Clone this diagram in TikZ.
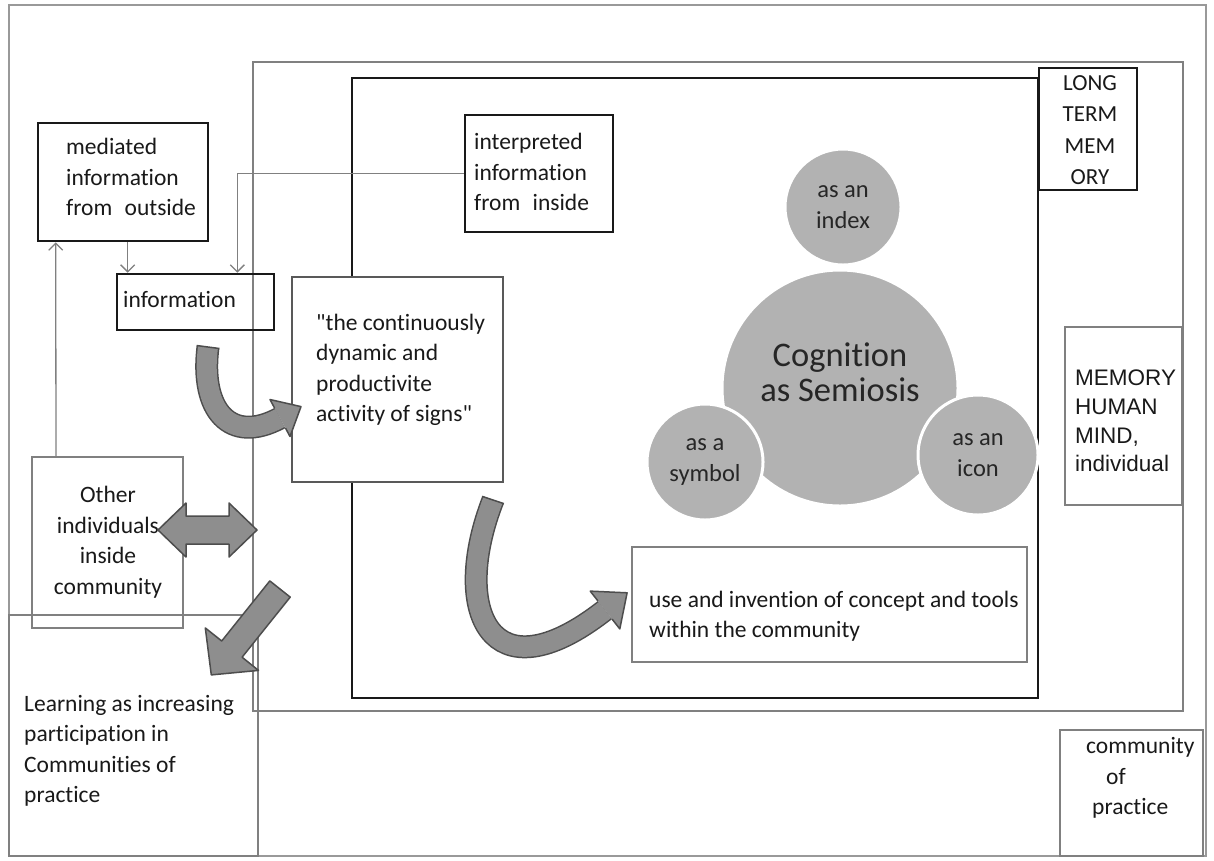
\documentclass[tikz,border=0pt]{standalone}
\usepackage{fontspec}
\setmainfont{Carlito}[Ligatures={TeX,NoCommon}]
\newfontfamily\arialfont{Liberation Sans}
\usetikzlibrary{arrows.meta,calc}
\definecolor{arrfill}{HTML}{8E8E8E}
\definecolor{arrline}{HTML}{4D4D4D}
\definecolor{circfill}{HTML}{B2B2B2}
\tikzset{
  outerframe/.style={draw=black!40, line width=1.6pt},
  gframe/.style={draw=black!50, line width=2pt},
  bframe/.style={draw=black!90, line width=2.6pt},
  bbox/.style={rectangle, draw=black!90, line width=2.6pt, inner sep=0pt},
  cbox/.style={rectangle, draw=black!65, line width=2.2pt, inner sep=0pt},
  gbox/.style={rectangle, draw=black!50, line width=2pt, inner sep=0pt},
  txt/.style={inner sep=0pt, align=left, font=\fontsize{23.5}{30.5}\selectfont, text=black!90},
  conn/.style={draw=black!50, line width=1.3pt, -{Straight Barb[length=7pt,width=14pt]}},
  circ/.style={circle, fill=circfill, draw=white, line width=3pt, inner sep=0pt,
               align=center, font=\fontsize{24.5}{31}\selectfont, text=black!85},
  bandout/.style={draw=arrline, line width=23pt},
  bandin/.style={draw=arrfill, line width=20pt},
  headline/.style={draw=arrline, line width=1.5pt, line join=round},
  blockarrow/.style={fill=arrfill, draw=arrline, line width=1.5pt, line join=round}
}
\begin{document}
\begin{tikzpicture}[x=1pt,y=-1pt]
\useasboundingbox (0,0) rectangle (1214,860);
\fill[white] (0,0) rectangle (1214,860);
% frames
\draw[outerframe] (9,5) rectangle (1206,856);
\draw[gframe] (253,62) rectangle (1183,711);
\draw[bframe] (352,78) rectangle (1038,698);
% boxes
\node[bbox, minimum width=170pt, minimum height=118pt] (med) at (123,182) {};
\node[bbox, minimum width=157pt, minimum height=56pt] (info) at (195.5,302) {};
\node[bbox, minimum width=148pt, minimum height=117pt, fill=white] (interp) at (539,173.5) {};
\node[cbox, minimum width=211pt, minimum height=205pt, fill=white] (cont) at (397.5,379.5) {};
\node[gbox, minimum width=151pt, minimum height=171pt] (other) at (107.5,542.5) {};
\node[gbox, minimum width=249pt, minimum height=241pt] (learn) at (133.5,735.5) {};
\node[gbox, minimum width=395pt, minimum height=115pt] (use) at (829.5,604.5) {};
\node[bbox, minimum width=98pt, minimum height=122pt, fill=white] (ltm) at (1088,129) {};
\node[gbox, minimum width=117pt, minimum height=178pt] (mem) at (1123.5,416) {};
\node[gbox, minimum width=143pt, minimum height=126pt] (comm) at (1131.5,793) {};
% texts
\node[txt, anchor=west] (medT) at (66,177) {mediated\\information\\from\hspace{0.3em} outside};
\node[txt, anchor=west] (infoT) at (123,299) {information};
\node[txt, anchor=west] (interpT) at (474,172) {interpreted\\information\\from\hspace{0.3em} inside};
\node[txt, anchor=west] (contT) at (316,370) {\textquotedbl the continuously\\dynamic and\\productivite\\activity of signs\textquotedbl};
\node[txt, align=center] (otherT) at (108,542) {Other\\individuals\\inside\\community};
\node[txt, anchor=west] (learnT) at (24,751) {Learning as increasing\\participation in\\Communities of\\practice};
\node[txt, anchor=west] (useT) at (649,616) {use and invention of concept and tools\\within the community};
\node[txt, align=center, font=\fontsize{23}{31.3}\selectfont] (ltmT) at (1090,130) {LONG\\TERM\\MEM\\ORY};
\node[txt, anchor=west, font=\arialfont\fontsize{22.5}{28.7}\selectfont] (memT) at (1075,421) {MEMORY\\HUMAN\\MIND,\\individual};
\node[txt, anchor=west] (commT) at (1086,778) {community\\\hspace{20pt}of\\\hspace{6pt}practice};
% connectors
\draw[conn] ([xshift=25pt]other.north west) -- ([xshift=19pt]med.south west);
\draw[conn] ([xshift=91pt]med.south west) -- ([xshift=12pt]info.north west);
\draw[conn] (interp.west) -| ([xshift=-38pt]info.north east);
% circles
\node[circ, minimum size=236pt] (big) at (840,388) {};
\node[inner sep=0pt, align=center, font=\fontsize{34.5}{35}\selectfont, text=black!85] (cogT) at (840,372) {Cognition\\as Semiosis};
\node[circ, minimum size=116pt] (idx) at (843,207) {as an\\index};
\node[circ, minimum size=116pt] (sym) at (705,462) {as a\\symbol};
\node[circ, minimum size=120pt] (ico) at (978,455) {as an\\icon};
% curved arrow 1: information -> continuous
\coordinate (a1s) at (208,347);
\coordinate (a1e) at (280,418);
\draw[bandout] (a1s) .. controls (200,410) and (230,445) .. (a1e);
\draw[bandin] (a1s) .. controls (200,410) and (230,445) .. (a1e);
\fill[arrfill] (290,436.5) -- (301,406.6) -- (270,399.5) -- cycle;
\draw[headline] (285.5,428.1) -- (290,436.5) -- (301,406.6) -- (270,399.5) -- (274.5,407.9);
\draw[headline] (219.4,348.5) -- (196.6,345.5);
% curved arrow 2: continuous -> use
\coordinate (a2s) at (493,500);
\coordinate (a2e) at (605,610);
\draw[bandout] (a2s) .. controls (450,610) and (490,700) .. (a2e);
\draw[bandin] (a2s) .. controls (450,610) and (490,700) .. (a2e);
\fill[arrfill] (619.8,628.9) -- (627.1,592.8) -- (590.2,591.1) -- cycle;
\draw[headline] (612.1,619.1) -- (619.8,628.9) -- (627.1,592.8) -- (590.2,591.1) -- (597.9,600.9);
\draw[headline] (503.9,503.6) -- (482.1,496.4);
% double arrow
\filldraw[blockarrow] (158,530) -- (186,503) -- (186,516) -- (229,516) -- (229,503) -- (257,530)
  -- (229,557) -- (229,544) -- (186,544) -- (186,557) -- cycle;
% diagonal arrow
\filldraw[blockarrow] (269.8,580.9) -- (290.2,597.1) -- (242.1,657.2) -- (258.5,670.4)
  -- (211.3,674.9) -- (205.3,627.9) -- (221.7,641.0) -- cycle;
\end{tikzpicture}
\end{document}
